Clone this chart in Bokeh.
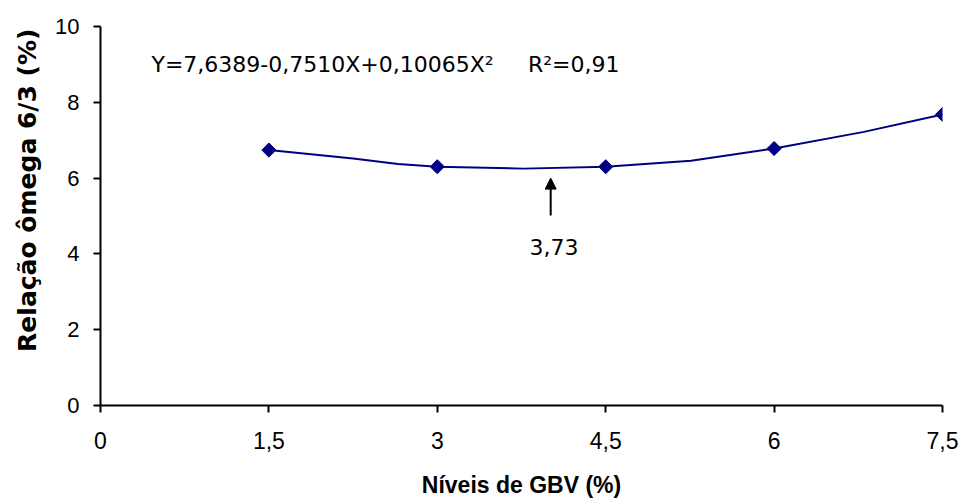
import math
from bokeh.plotting import figure
from bokeh.models import Range1d, FixedTicker, Arrow, NormalHead, Label, Title
from bokeh.embed import file_html
from bokeh.resources import INLINE

# data
x_levels = [1.5, 3.0, 4.5, 6.0, 7.5]
omega_ratio = [6.74, 6.30, 6.30, 6.78, 7.68]
# smoothed curve as drawn
curve_x = [1.5, 2.25, 2.65, 3.0, 3.77, 4.5, 5.26, 6.0, 6.8, 7.5]
curve_y = [6.74, 6.52, 6.37, 6.30, 6.25, 6.30, 6.46, 6.78, 7.22, 7.68]
x_ticks = [0, 1.5, 3, 4.5, 6, 7.5]
x_tick_labels = {0: "0", 1.5: "1,5", 3: "3", 4.5: "4,5", 6: "6", 7.5: "7,5"}
y_ticks = [0, 2, 4, 6, 8, 10]
x_title = "Níveis de GBV (%)"
y_title = "Relação ômega 6/3 (%)"
equation = "Y=7,6389-0,7510X+0,10065X\u00b2"
r_squared = "R\u00b2=0,91"
min_x, min_label = 4.01, "3,73"

p = figure(width=958, height=502, output_backend="svg", toolbar_location=None,
           x_range=Range1d(0, 7.5), y_range=Range1d(0, 10),
           min_border_left=99, min_border_right=16, min_border_top=26, min_border_bottom=97)
p.outline_line_color = None
p.grid.grid_line_color = None
p.background_fill_color = "white"

p.line(curve_x, curve_y, line_color="#000080", line_width=2)
p.scatter(x_levels, omega_ratio, marker="square", size=10, angle=math.pi / 4,
          fill_color="#000080", line_color="#000080")

for ax in (p.xaxis[0], p.yaxis[0]):
    ax.axis_line_color = "black"
    ax.axis_line_width = 2
    ax.major_tick_line_color = "black"
    ax.major_tick_line_width = 2
    ax.major_tick_in = 0
    ax.major_tick_out = 7
    ax.minor_tick_line_color = None
    ax.major_label_text_color = "black"
    ax.major_label_text_font_style = "normal"

p.xaxis.ticker = FixedTicker(ticks=x_ticks)
p.xaxis.major_label_overrides = x_tick_labels
p.xaxis.major_label_text_font = "Liberation Sans"
p.xaxis.major_label_text_font_size = "23px"
p.xaxis.major_label_standoff = 19
p.xaxis.axis_label = x_title
p.xaxis.axis_label_text_font = "Liberation Sans"
p.xaxis.axis_label_text_font_style = "bold"
p.xaxis.axis_label_text_font_size = "23px"
p.xaxis.axis_label_text_color = "black"
p.xaxis.axis_label_standoff = 20

p.yaxis.ticker = FixedTicker(ticks=y_ticks)
p.yaxis.major_label_text_font = "Liberation Sans"
p.yaxis.major_label_text_font_size = "22px"
p.yaxis.major_label_standoff = 14

# y title placed as in the picture
p.add_layout(Title(text=y_title, align="right", offset=2, standoff=21,
                   text_font="DejaVu Sans", text_font_style="bold",
                   text_font_size="25px", text_color="black"), "left")

p.add_layout(Label(x=0.454, y=9.0, text=equation, text_font="DejaVu Sans",
                   text_font_size="22px", text_baseline="alphabetic", text_color="black"))
p.add_layout(Label(x=3.808, y=9.0, text=r_squared, text_font="DejaVu Sans",
                   text_font_size="22px", text_baseline="alphabetic", text_color="black"))
p.add_layout(Arrow(end=NormalHead(size=11, fill_color="black", line_color="black"),
                   x_start=min_x, y_start=5.01, x_end=min_x, y_end=6.0,
                   line_color="black", line_width=2))
p.add_layout(Label(x=4.04, y=4.17, text=min_label, text_font="DejaVu Sans",
                   text_font_size="22px", text_align="center", text_baseline="middle",
                   text_color="black"))

open("out.html", "w").write(file_html(p, INLINE))
